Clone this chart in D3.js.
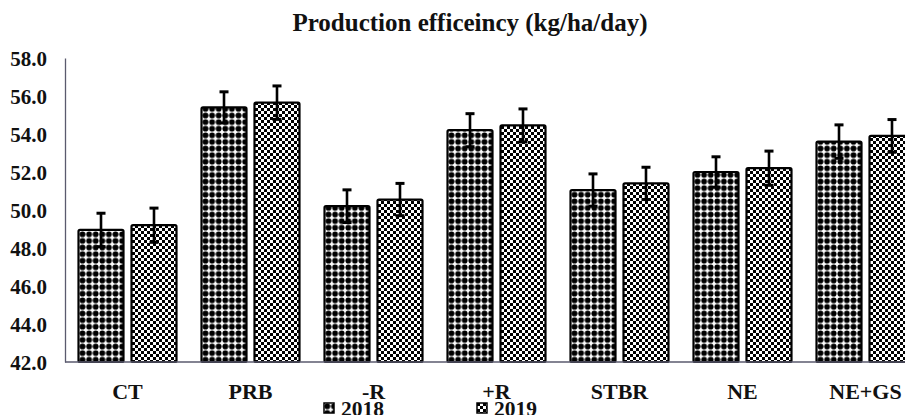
<!DOCTYPE html>
<html lang="en">
<head>
    <meta charset="UTF-8">
    <title>Production efficeincy (kg/ha/day)</title>
    <style>
        body {
            margin: 0;
            padding: 0;
            background: #fff;
            overflow: hidden;
        }
    </style>
</head>
<body>
    <div id="chart"></div>

    <script src="https://d3js.org/d3.v7.min.js"></script>
    <script>
        const categories = ["CT", "PRB", "-R", "+R", "STBR", "NE", "NE+GS"];
        const series = ["2018", "2019"];
        const values2018 = [48.95, 55.4, 50.2, 54.2, 51.05, 52.0, 53.6];
        const values2019 = [49.2, 55.65, 50.55, 54.45, 51.4, 52.2, 53.9];
        const errors2018 = [0.88, 0.82, 0.86, 0.87, 0.85, 0.8, 0.88];
        const errors2019 = [0.9, 0.88, 0.85, 0.87, 0.85, 0.9, 0.86];
        const yTicks = [42, 44, 46, 48, 50, 52, 54, 56, 58];

        const width = 905;
        const height = 415;
        const serif = "'Liberation Serif', 'Times New Roman', 'DejaVu Serif', serif";

        const rows = categories.map((c, i) => ({
            name: c,
            bars: [
                { key: "2018", value: values2018[i], err: errors2018[i] },
                { key: "2019", value: values2019[i], err: errors2019[i] }
            ]
        }));

        const svg = d3.select("#chart").append("svg")
            .attr("width", width)
            .attr("height", height)
            .attr("font-family", serif)
            .attr("font-weight", "bold");

        // fill patterns for the two years
        const defs = svg.append("defs");

        const dots = defs.append("pattern")
            .attr("id", "pat2018")
            .attr("patternUnits", "userSpaceOnUse")
            .attr("width", 6.6)
            .attr("height", 6.6);
        dots.append("rect").attr("width", 6.6).attr("height", 6.6).attr("fill", "#fff");
        dots.append("circle").attr("cx", 3.3).attr("cy", 3.3).attr("r", 2.9).attr("fill", "#000");

        const checks = defs.append("pattern")
            .attr("id", "pat2019")
            .attr("patternUnits", "userSpaceOnUse")
            .attr("width", 6)
            .attr("height", 6);
        checks.append("rect").attr("width", 6).attr("height", 6).attr("fill", "#fff");
        checks.append("rect").attr("x", 0).attr("y", 0).attr("width", 3).attr("height", 3).attr("fill", "#000");
        checks.append("rect").attr("x", 3).attr("y", 3).attr("width", 3).attr("height", 3).attr("fill", "#000");

        const fills = { "2018": "url(#pat2018)", "2019": "url(#pat2019)" };

        const x0 = d3.scaleBand()
            .domain(categories)
            .range([66, 66 + 123 * categories.length]);

        const x1 = d3.scaleBand()
            .domain(series)
            .range([0, x0.bandwidth()])
            .paddingInner(0.151)
            .paddingOuter(0.236);

        const y = d3.scaleLinear()
            .domain([42, 58])
            .range([362, 58]);

        // title
        svg.append("text")
            .attr("x", 470)
            .attr("y", 31)
            .attr("text-anchor", "middle")
            .attr("font-family", serif)
            .attr("font-size", 25)
            .attr("fill", "#111")
            .text("Production efficeincy (kg/ha/day)");

        // y axis
        const yAxis = svg.append("g")
            .attr("transform", "translate(65,0)")
            .call(d3.axisLeft(y).tickValues(yTicks).tickFormat(d3.format(".1f")).tickSize(0).tickPadding(18))
            .attr("font-family", serif)
            .attr("font-size", 21);
        yAxis.select(".domain").attr("stroke", "#5a5a6e").attr("stroke-width", 1.3);
        yAxis.selectAll("text").attr("fill", "#111").attr("dy", "0.36em");

        // bars
        const groups = svg.selectAll(".cat")
            .data(rows)
            .enter().append("g")
            .attr("class", "cat")
            .attr("transform", d => `translate(${x0(d.name)},0)`);

        groups.selectAll("rect.bar")
            .data(d => d.bars)
            .enter().append("rect")
            .attr("class", "bar")
            .attr("x", d => x1(d.key))
            .attr("y", d => y(d.value))
            .attr("width", x1.bandwidth())
            .attr("height", d => y(42) - y(d.value))
            .attr("rx", 1.5)
            .attr("fill", d => fills[d.key])
            .attr("stroke", "#000")
            .attr("stroke-width", 2.2);

        // error bars
        const eb = groups.selectAll("g.err")
            .data(d => d.bars)
            .enter().append("g")
            .attr("class", "err")
            .attr("transform", d => `translate(${x1(d.key) + x1.bandwidth() / 2},0)`);

        eb.append("line")
            .attr("y1", d => y(d.value - d.err))
            .attr("y2", d => y(d.value + d.err))
            .attr("stroke", "#000")
            .attr("stroke-width", 2.6);
        eb.append("line")
            .attr("x1", -4.5).attr("x2", 4.5)
            .attr("y1", d => y(d.value + d.err))
            .attr("y2", d => y(d.value + d.err))
            .attr("stroke", "#000")
            .attr("stroke-width", 3);
        eb.append("line")
            .attr("x1", -4.5).attr("x2", 4.5)
            .attr("y1", d => y(d.value - d.err))
            .attr("y2", d => y(d.value - d.err))
            .attr("stroke", "#000")
            .attr("stroke-width", 3);

        // x axis line
        svg.append("line")
            .attr("x1", 65).attr("x2", width)
            .attr("y1", y(42)).attr("y2", y(42))
            .attr("stroke", "#5a5a6e")
            .attr("stroke-width", 1.5);

        // category labels
        svg.selectAll(".cat-label")
            .data(categories)
            .enter().append("text")
            .attr("class", "cat-label")
            .attr("x", d => x0(d) + x0.bandwidth() / 2)
            .attr("y", 399)
            .attr("text-anchor", "middle")
            .attr("font-family", serif)
            .attr("font-size", 22)
            .attr("fill", "#111")
            .text(d => d);

        // legend
        const legendX = [324, 477];
        const legend = svg.selectAll(".legend")
            .data(series)
            .enter().append("g")
            .attr("class", "legend")
            .attr("transform", (d, i) => `translate(${legendX[i]},403)`);

        legend.append("rect")
            .attr("width", 10)
            .attr("height", 10)
            .attr("fill", d => fills[d])
            .attr("stroke", "#000")
            .attr("stroke-width", 1.5);

        legend.append("text")
            .attr("x", 17)
            .attr("y", 13)
            .attr("font-family", serif)
            .attr("font-size", 21.5)
            .attr("fill", "#111")
            .text(d => d);
    </script>
</body>
</html>
